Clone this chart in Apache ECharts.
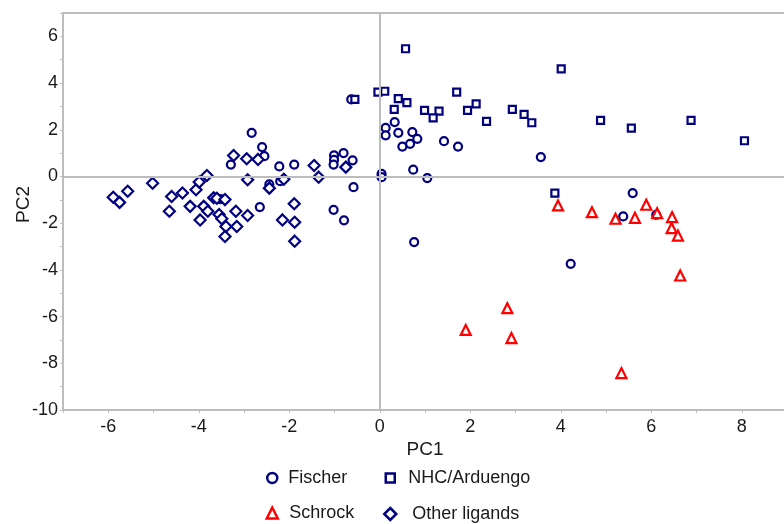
<!DOCTYPE html>
<html>
<head>
<meta charset="utf-8">
<script src="https://cdn.jsdelivr.net/npm/echarts@6/dist/echarts.min.js"></script>
<style>
    html, body {margin:0; padding:0; background:#fff;}
    #pca-chart {width:784px; height:524px;}
</style>
</head>
<body>
<div id="pca-chart"></div>
<script>
// PC1 / PC2 scores
var fischer = [
    [-3.29,0.51],[-2.83,1.87],[-2.60,1.26],[-2.55,0.87],[-2.22,0.43],[-1.89,0.51],
    [-1.01,0.90],[-1.01,0.71],[-1.02,0.51],[-0.80,1.00],[-0.60,0.69],[-0.58,-0.46],
    [0.04,0.11],[0.04,-0.03],[0.13,2.08],[0.13,1.76],[-2.44,-0.34],[-2.20,-0.20],
    [-2.65,-1.31],[-1.02,-1.43],[-0.79,-1.88],[-0.63,3.30],[-3.52,-0.97],[0.33,2.33],
    [0.41,1.87],[0.72,1.90],[0.83,1.61],[0.67,1.40],[0.50,1.28],[1.42,1.51],
    [1.73,1.28],[3.56,0.83],[0.74,0.29],[1.05,-0.07],[5.38,-1.71],[5.59,-0.71],
    [6.11,-1.64],[4.22,-3.74],[0.76,-2.81]
];
var nhc = [
    [-0.55,3.30],[-0.04,3.61],[0.11,3.65],[0.57,5.47],[4.01,4.61],[0.41,3.33],
    [0.60,3.16],[0.32,2.87],[1.70,3.61],[0.99,2.83],[1.31,2.80],[1.18,2.51],
    [1.94,2.83],[2.13,3.11],[2.36,2.36],[2.93,2.87],[3.19,2.66],[3.36,2.30],
    [3.87,-0.71],[4.88,2.40],[5.56,2.07],[6.88,2.40],[8.06,1.53]
];
var schrock = [
    [3.94,-1.24],[4.69,-1.53],[5.21,-1.81],[5.64,-1.77],[5.89,-1.21],[6.13,-1.57],
    [6.46,-1.74],[6.45,-2.21],[6.59,-2.53],[6.64,-4.24],[2.82,-5.64],[1.90,-6.57],
    [2.91,-6.92],[5.34,-8.42]
];
var otherLigands = [
    [-5.89,-0.89],[-5.75,-1.11],[-5.57,-0.63],[-5.02,-0.29],[-4.60,-0.86],[-4.36,-0.71],
    [-4.65,-1.49],[-4.19,-1.28],[-4.06,-0.57],[-3.99,-0.24],[-3.82,0.04],[-3.97,-1.86],
    [-3.89,-1.28],[-3.80,-1.49],[-3.67,-0.91],[-3.60,-0.93],[-3.42,-0.99],[-3.55,-1.63],
    [-3.49,-1.81],[-3.40,-2.14],[-3.42,-2.57],[-3.18,-1.49],[-3.16,-2.14],[-3.23,0.90],
    [-2.94,0.76],[-2.92,-0.14],[-2.92,-1.67],[-2.69,0.73],[-1.45,0.47],[-1.35,-0.03],
    [-0.75,0.40],[-2.44,-0.50],[-2.12,-0.12],[-1.89,-1.17],[-2.15,-1.86],[-1.88,-1.96],
    [-1.88,-2.77]
];
var xName = 'PC1';
var yName = 'PC2';
var seriesNames = ['Fischer', 'NHC/Arduengo', 'Schrock', 'Other ligands'];

var navy = '#00007f';
var red = '#ff0000';
var gray = '#bdbdbd';
var font = 'Liberation Sans, Arial, sans-serif';

// only even ticks get a label
function evenOnly(v) {
    return (Math.round(v) % 2 === 0) ? String(v) : '';
}

// one legend per entry so every icon keeps its own size
// cx, cy: icon centre, size: icon box, textX: where the text starts
function legendItem(name, cx, cy, size, textX) {
    var left = cx - size / 2;
    return {
        data: [name],
        left: left,
        top: cy - 10,
        padding: 0,
        itemWidth: size,
        itemHeight: size,
        selectedMode: false,
        itemStyle: {borderWidth: 2.5},
        textStyle: {
            fontFamily: font, fontSize: 18, lineHeight: 20, color: '#1a1a1a',
            padding: [0, 0, 0, textX - (left + size + 5)]
        }
    };
}

var chart = echarts.init(document.getElementById('pca-chart'));
var option = {
    animation: false,
    backgroundColor: '#fff',
    grid: {
        left: 63, right: -3, top: 13, bottom: 114,
        outerBoundsMode: 'none',
        containLabel: false,
        show: true, borderColor: gray, borderWidth: 2,
        backgroundColor: 'transparent'
    },
    legend: [
        legendItem(seriesNames[0], 271, 478, 10, 287),
        legendItem(seriesNames[1], 389, 478, 9, 407),
        legendItem(seriesNames[2], 271, 513, 11, 288),
        legendItem(seriesNames[3], 389, 514, 12, 411)
    ],
    xAxis: {
        type: 'value', min: -7, max: 9, interval: 1,
        name: xName, nameLocation: 'middle', nameGap: 30, nameMoveOverlap: false,
        nameTextStyle: {fontFamily: font, fontSize: 19, color: '#1a1a1a'},
        axisLine: {onZero: false, lineStyle: {color: gray, width: 2}},
        axisTick: {length: 3, lineStyle: {color: gray}},
        splitLine: {show: false},
        axisLabel: {formatter: evenOnly, fontFamily: font, fontSize: 18, color: '#1a1a1a', margin: 8}
    },
    yAxis: {
        type: 'value', min: -10, max: 7, interval: 1,
        name: yName, nameLocation: 'middle', nameGap: 30, nameRotate: 90, nameMoveOverlap: false,
        nameTextStyle: {fontFamily: font, fontSize: 19, color: '#1a1a1a', padding: [0, 0, 0, 14]},
        axisLine: {show: true, onZero: false, lineStyle: {color: gray, width: 2}},
        axisTick: {show: true, length: 3, lineStyle: {color: gray}},
        splitLine: {show: false},
        axisLabel: {formatter: evenOnly, fontFamily: font, fontSize: 18, color: '#1a1a1a', margin: 5}
    },
    series: [
        {
            // zero lines
            name: 'zero', type: 'scatter', data: [], z: 1, silent: true,
            markLine: {
                silent: true, symbol: ['none', 'none'], animation: false,
                label: {show: false},
                lineStyle: {color: gray, width: 2, type: 'solid'},
                data: [{xAxis: 0}, {yAxis: 0}]
            }
        },
        {
            name: seriesNames[0], type: 'scatter', data: fischer, z: 3,
            symbol: 'circle', symbolSize: 8,
            itemStyle: {color: '#fff', borderColor: navy, borderWidth: 2.2, opacity: 1}
        },
        {
            name: seriesNames[1], type: 'scatter', data: nhc, z: 3,
            symbol: 'rect', symbolSize: 7,
            itemStyle: {color: '#fff', borderColor: navy, borderWidth: 2.2, opacity: 1}
        },
        {
            name: seriesNames[2], type: 'scatter', data: schrock, z: 3,
            symbol: 'triangle', symbolSize: 10,
            itemStyle: {color: '#fff', borderColor: red, borderWidth: 2.2, opacity: 1}
        },
        {
            name: seriesNames[3], type: 'scatter', data: otherLigands, z: 3,
            symbol: 'diamond', symbolSize: 11,
            itemStyle: {color: '#fff', borderColor: navy, borderWidth: 2.2, opacity: 1}
        }
    ]
};
chart.setOption(option);
</script>
</body>
</html>
